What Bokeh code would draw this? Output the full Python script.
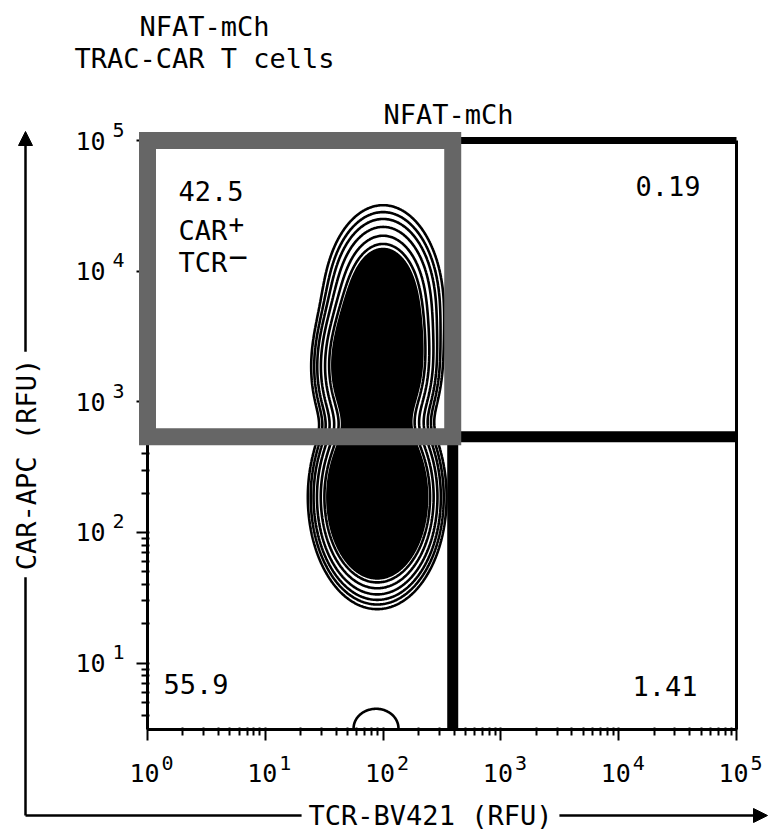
import numpy as np
from bokeh.plotting import figure
from bokeh.models import (Range1d, FixedTicker, CustomJSTickFormatter, Label, Arrow,
                          NormalHead, PolyAnnotation)
from bokeh.embed import file_html
from bokeh.resources import INLINE

FONT = "DejaVu Sans Mono"

# Axis limits and decade ticks (RFU)
tcr_range = (1.0, 1e5)
car_range = (3.1, 1e5)
tcr_ticks = [1, 10, 100, 1000, 10000, 100000]
car_ticks = [10, 100, 1000, 10000, 100000]

# Quadrant gate thresholds (RFU)
tcr_threshold = 390.0
car_threshold = 540.0

# Percent of events in each quadrant
pct_car_pos_tcr_neg = "42.5"
pct_car_pos_tcr_pos = "0.19"
pct_car_neg_tcr_neg = "55.9"
pct_car_neg_tcr_pos = "1.41"

# Event density: elliptical components in log10 RFU
# (profile 2 = normal fall-off, 3 = steeper flanks)
comp_tcr_center = [1.95, 1.94, 2.00, 1.94]
comp_car_center = [2.27, 3.25, 3.72, 0.50]
comp_tcr_spread = [0.294, 0.285, 0.19, 0.235]
comp_car_spread = [0.428, 0.38, 0.29, 0.185]
comp_profile = [3.0, 3.0, 2.0, 2.0]
comp_peak = [1.0, 0.62, 0.70, 0.025]

# Contour levels (relative density); everything above core_level is solid
contour_levels = [0.018, 0.029, 0.045, 0.072, 0.115, 0.17]
core_level = 0.2

# Page geometry: the plotting area sits inside a frame that spans the canvas
W, H = 769, 832
area_left, area_top, area_w, area_h = 147, 140, 589, 589

lx0, lx1 = np.log10(tcr_range)
ly0, ly1 = np.log10(car_range)


def px_of_x(x):
    return area_left + (np.log10(x) - lx0) / (lx1 - lx0) * area_w


def px_of_y(y):
    return area_top + (ly1 - np.log10(y)) / (ly1 - ly0) * area_h


def data_x(px):
    return 10 ** (lx0 + (px - area_left) / area_w * (lx1 - lx0))


def data_y(py):
    return 10 ** (ly1 - (py - area_top) / area_h * (ly1 - ly0))


# density grid in log space, limited to the plotting area
u = np.linspace(lx0, lx1, 601)
v = np.linspace(ly0, ly1, 541)
U, V = np.meshgrid(u, v)
Z = np.zeros_like(U)
for tc, cc, ts, cs, pr, pk in zip(comp_tcr_center, comp_car_center, comp_tcr_spread,
                                  comp_car_spread, comp_profile, comp_peak):
    r = np.sqrt(((U - tc) / ts) ** 2 + ((V - cc) / cs) ** 2)
    Z += pk * np.exp(-0.5 * r ** pr)

p = figure(width=W, height=H, x_axis_type="log", y_axis_type="log",
           x_range=Range1d(data_x(0), data_x(W)), y_range=Range1d(data_y(H), data_y(0)),
           min_border=0, output_backend="svg", toolbar_location=None)
p.grid.visible = False
p.background_fill_color = "white"
p.border_fill_color = "white"
p.outline_line_color = None


def minor(lo, hi):
    out = []
    for k in range(-1, 6):
        for m in range(2, 10):
            t = m * 10 ** k
            if lo < t < hi:
                out.append(t)
    return out


p.xaxis.ticker = FixedTicker(ticks=tcr_ticks, minor_ticks=minor(*tcr_range))
p.yaxis.ticker = FixedTicker(ticks=car_ticks, minor_ticks=minor(*car_range))
p.xaxis.fixed_location = car_range[0]
p.yaxis.fixed_location = tcr_range[0]
p.xaxis.bounds = tcr_range
p.yaxis.bounds = car_range
blank = CustomJSTickFormatter(code="return ''")
for ax in (p.xaxis[0], p.yaxis[0]):
    ax.formatter = blank
    ax.axis_line_width = 3
    ax.axis_line_color = "black"
    ax.major_tick_line_width = 2
    ax.minor_tick_line_width = 2
    ax.major_tick_out = 11
    ax.major_tick_in = 2
    ax.minor_tick_out = 6
    ax.minor_tick_in = 2

# contour rings and solid core
p.contour(x=10 ** u, y=10 ** v, z=Z, levels=[core_level, float(Z.max()) + 1.0],
          fill_color="black", line_color=None)
p.contour(x=10 ** u, y=10 ** v, z=Z, levels=contour_levels,
          line_color="black", line_width=2.6)

# quadrant boundaries and right border
p.segment(x0=[tcr_threshold, tcr_threshold, tcr_threshold, tcr_range[1]],
          y0=[car_threshold, car_range[0], car_range[1], car_range[0]],
          x1=[tcr_range[1], tcr_threshold, tcr_range[1], tcr_range[1]],
          y1=[car_threshold, car_threshold, car_range[1], car_range[1]],
          line_color="black", line_width=[11, 11, 7, 3])

# selected CAR+ TCR- gate
p.add_layout(PolyAnnotation(
    xs=[tcr_range[0], tcr_threshold, tcr_threshold, tcr_range[0]],
    ys=[car_threshold, car_threshold, car_range[1], car_range[1]],
    line_color="#666666", line_alpha=1.0, line_width=17, line_join="miter",
    fill_color=None))


def label(px, py, text, size=27, align="left", baseline="middle", **kw):
    p.add_layout(Label(x=px, y=py, x_units="canvas", y_units="canvas", text=text,
                       text_font=FONT, text_font_size=f"{size}px",
                       text_align=align, text_baseline=baseline, text_color="black", **kw))


# decade tick labels
for t in tcr_ticks:
    e = str(int(round(np.log10(t))))
    label(px_of_x(t) - 3, px_of_y(car_range[0]) + 43, "10", 25, "center")
    label(px_of_x(t) + 14, px_of_y(car_range[0]) + 33, e, 20, "left")
for t in car_ticks:
    e = str(int(round(np.log10(t))))
    label(px_of_x(tcr_range[0]) - 42, px_of_y(t), "10", 25, "right")
    label(px_of_x(tcr_range[0]) - 35, px_of_y(t) - 11, e, 20, "left")

# quadrant statistics
label(178, 190, pct_car_pos_tcr_neg)
label(178, 230, "CAR")
label(228, 222, "+", 26)
label(178, 262, "TCR")
label(228, 256, "\u2212", 32)
label(700, 185, pct_car_pos_tcr_pos, align="right")
label(163, 683, pct_car_neg_tcr_neg)
label(697, 685, pct_car_neg_tcr_pos, align="right")

# titles
label(204, 26, "NFAT-mCh", align="center")
label(204, 58, "TRAC-CAR T cells", align="center")
label(448, 114, "NFAT-mCh", align="center")

# axis arrows with their titles
head = dict(size=14, fill_color="black", line_color="black")
p.add_layout(Arrow(end=NormalHead(**head), start_units="canvas", end_units="canvas",
                   x_start=25, y_start=815, x_end=767, y_end=815,
                   line_width=2.5, line_color="black"))
p.add_layout(Arrow(end=NormalHead(**head), start_units="canvas", end_units="canvas",
                   x_start=25, y_start=815, x_end=25, y_end=131,
                   line_width=2.5, line_color="black"))
label(430, 815, "TCR-BV421 (RFU)", align="center",
      background_fill_color="white", padding=7)
label(26, 464, "CAR-APC (RFU)", align="center", angle=np.pi / 2,
      background_fill_color="white", padding=7)

open("out.html", "w").write(file_html(p, INLINE))
